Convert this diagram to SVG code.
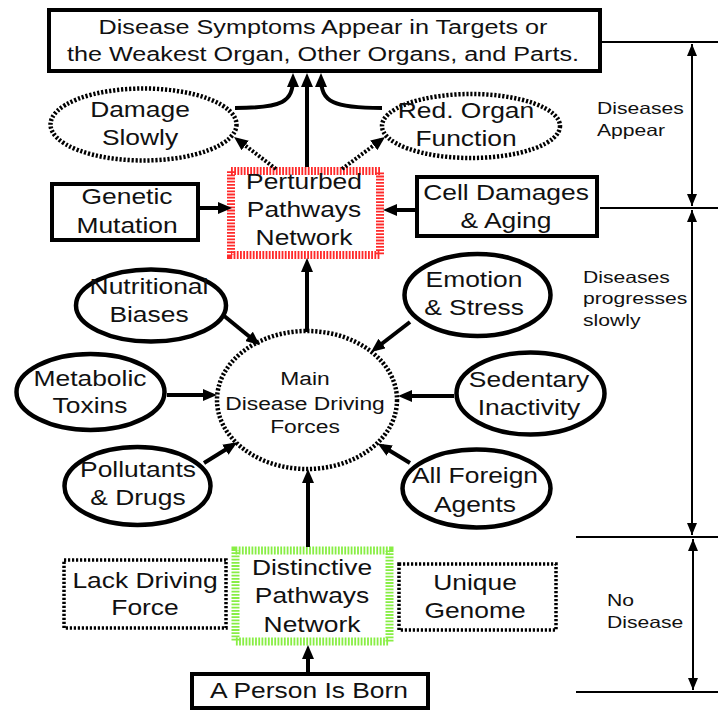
<svg xmlns="http://www.w3.org/2000/svg" width="718" height="711" viewBox="0 0 718 711">
<defs>
<style>
.n{font-family:"Liberation Sans",Arial,sans-serif;font-size:22px;fill:#111;text-anchor:middle}
.t{font-size:21px}
.m{font-size:19px}
.lb{font-family:"Liberation Sans",Arial,sans-serif;font-size:16.5px;fill:#111;text-anchor:start}
.box{fill:#fff;stroke:#000;stroke-width:4}
.ell{fill:#fff;stroke:#000;stroke-width:4.5}
.dot{fill:#fff;stroke:#000;stroke-width:4.5;stroke-dasharray:2.2 1.8}
.dotb{fill:#fff;stroke:#000;stroke-width:3.5;stroke-dasharray:2.2 1.8}
.hr{fill:#fff;stroke:#ff2a2a;stroke-width:8;stroke-dasharray:1.8 1.4}
.hg{fill:#fff;stroke:#88ee44;stroke-width:8;stroke-dasharray:1.8 1.4}
.c{fill:none;stroke:#000;stroke-width:4;marker-end:url(#ah)}
.cd{fill:none;stroke:#000;stroke-width:4;stroke-dasharray:2.2 1.8;marker-end:url(#ah)}
.thin{fill:none;stroke:#000;stroke-width:2}
.dbl{fill:none;stroke:#000;stroke-width:2;marker-start:url(#sh);marker-end:url(#sh)}
</style>
<marker id="ah" viewBox="0 0 14 12" refX="9" refY="6" markerWidth="14" markerHeight="12" orient="auto" markerUnits="userSpaceOnUse"><path d="M0,0 L14,6 L0,12 z" fill="#000"/></marker>
<marker id="sh" viewBox="0 0 12 10" refX="12" refY="5" markerWidth="12" markerHeight="10" orient="auto-start-reverse" markerUnits="userSpaceOnUse"><path d="M0,0 L12,5 L0,10 z" fill="#000"/></marker>
</defs>
<rect width="718" height="711" fill="#fff"/>

<g id="symptoms">
<rect class="box" x="49" y="10" width="551" height="61"/>
<text class="n t" transform="translate(323 0) scale(1.2 1)" y="34">Disease Symptoms Appear in Targets or</text>
<text class="n t" transform="translate(323 0) scale(1.2 1)" y="61">the Weakest Organ, Other Organs, and Parts.</text>
</g>
<g id="damage-slowly">
<ellipse class="dot" cx="143.5" cy="124.5" rx="93" ry="36"/>
<text class="n" transform="translate(140 0) scale(1.2 1)" y="117">Damage</text>
<text class="n" transform="translate(140 0) scale(1.2 1)" y="145">Slowly</text>
</g>
<g id="red-organ">
<ellipse class="dot" cx="471" cy="126" rx="89" ry="32"/>
<text class="n" transform="translate(466 0) scale(1.2 1)" y="118">Red. Organ</text>
<text class="n" transform="translate(466 0) scale(1.2 1)" y="146">Function</text>
</g>
<g id="perturbed">
<rect class="hr" x="231" y="171" width="149" height="84"/>
<text class="n" transform="translate(304 0) scale(1.2 1)" y="189">Perturbed</text>
<text class="n" transform="translate(304 0) scale(1.2 1)" y="217">Pathways</text>
<text class="n" transform="translate(304 0) scale(1.2 1)" y="245">Network</text>
</g>
<g id="genetic">
<rect class="box" x="52" y="184" width="146" height="56"/>
<text class="n" transform="translate(127 0) scale(1.2 1)" y="204">Genetic</text>
<text class="n" transform="translate(127 0) scale(1.2 1)" y="233">Mutation</text>
</g>
<g id="cell-damages">
<rect class="box" x="417" y="177" width="180" height="59"/>
<text class="n" transform="translate(506 0) scale(1.2 1)" y="200">Cell Damages</text>
<text class="n" transform="translate(506 0) scale(1.2 1)" y="228">&amp; Aging</text>
</g>
<g id="nutritional">
<ellipse class="ell" cx="151" cy="305.5" rx="75" ry="36"/>
<text class="n" transform="translate(149 0) scale(1.2 1)" y="294">Nutritional</text>
<text class="n" transform="translate(149 0) scale(1.2 1)" y="322">Biases</text>
</g>
<g id="emotion">
<ellipse class="ell" cx="477.5" cy="295" rx="73" ry="41"/>
<text class="n" transform="translate(474 0) scale(1.2 1)" y="287">Emotion</text>
<text class="n" transform="translate(474 0) scale(1.2 1)" y="315">&amp; Stress</text>
</g>
<g id="metabolic">
<ellipse class="ell" cx="90.5" cy="392" rx="74" ry="38"/>
<text class="n" transform="translate(90 0) scale(1.2 1)" y="386">Metabolic</text>
<text class="n" transform="translate(90 0) scale(1.2 1)" y="413">Toxins</text>
</g>
<g id="sedentary">
<ellipse class="ell" cx="530.5" cy="393.5" rx="74" ry="41"/>
<text class="n" transform="translate(529 0) scale(1.2 1)" y="387">Sedentary</text>
<text class="n" transform="translate(529 0) scale(1.2 1)" y="415">Inactivity</text>
</g>
<g id="pollutants">
<ellipse class="ell" cx="137.5" cy="486" rx="73" ry="39"/>
<text class="n" transform="translate(138 0) scale(1.2 1)" y="477">Pollutants</text>
<text class="n" transform="translate(138 0) scale(1.2 1)" y="505">&amp; Drugs</text>
</g>
<g id="foreign">
<ellipse class="ell" cx="476.5" cy="488.5" rx="74" ry="39"/>
<text class="n" transform="translate(475 0) scale(1.2 1)" y="483">All Foreign</text>
<text class="n" transform="translate(475 0) scale(1.2 1)" y="512">Agents</text>
</g>
<g id="main-forces">
<ellipse class="dot" cx="307" cy="400" rx="90" ry="69"/>
<text class="n m" transform="translate(305 0) scale(1.2 1)" y="385">Main</text>
<text class="n m" transform="translate(305 0) scale(1.2 1)" y="410">Disease Driving</text>
<text class="n m" transform="translate(305 0) scale(1.2 1)" y="433">Forces</text>
</g>
<g id="lack-driving">
<rect class="dotb" x="64" y="560" width="162" height="68"/>
<text class="n" transform="translate(145 0) scale(1.2 1)" y="588">Lack Driving</text>
<text class="n" transform="translate(145 0) scale(1.2 1)" y="615">Force</text>
</g>
<g id="distinctive">
<rect class="hg" x="235.5" y="550.5" width="154" height="91"/>
<text class="n" transform="translate(312 0) scale(1.2 1)" y="575">Distinctive</text>
<text class="n" transform="translate(312 0) scale(1.2 1)" y="603">Pathways</text>
<text class="n" transform="translate(312 0) scale(1.2 1)" y="632">Network</text>
</g>
<g id="unique-genome">
<rect class="dotb" x="399" y="564" width="157" height="66"/>
<text class="n" transform="translate(475 0) scale(1.2 1)" y="590">Unique</text>
<text class="n" transform="translate(475 0) scale(1.2 1)" y="618">Genome</text>
</g>
<g id="born">
<rect class="box" x="192" y="674" width="236" height="34"/>
<text class="n" transform="translate(309 0) scale(1.2 1)" y="698">A Person Is Born</text>
</g>

<g id="stages">
<text class="lb" transform="translate(597 0) scale(1.28 1)" y="114">Diseases</text>
<text class="lb" transform="translate(597 0) scale(1.28 1)" y="136">Appear</text>
<text class="lb" transform="translate(583 0) scale(1.28 1)" y="283">Diseases</text>
<text class="lb" transform="translate(583 0) scale(1.28 1)" y="304">progresses</text>
<text class="lb" transform="translate(583 0) scale(1.28 1)" y="326">slowly</text>
<text class="lb" transform="translate(607 0) scale(1.28 1)" y="606">No</text>
<text class="lb" transform="translate(607 0) scale(1.28 1)" y="628">Disease</text>
</g>

<g id="connectors">
<path class="c" d="M307,167 L307,78"/>
<path class="c" d="M235,108 C283,108 293,102 293,78"/>
<path class="c" d="M382,108 C333,108 321,102 321,78"/>
<path class="cd" d="M276,169 L238,140"/>
<path class="cd" d="M342,169 L381,140"/>
<path class="c" d="M200,208 L227,208"/>
<path class="c" d="M415,210 L388,210"/>
<path class="c" d="M307,332 L307,263"/>
<path class="c" d="M223,315 L256,342"/>
<path class="c" d="M410,322 L375,349"/>
<path class="c" d="M167,395 L212,395"/>
<path class="c" d="M454,396 L403,396"/>
<path class="c" d="M204,463 L233,445"/>
<path class="c" d="M410,463 L382,446"/>
<path class="c" d="M308,547 L308,474"/>
<path class="c" d="M308,672 L308,650"/>
<path class="thin" d="M600,42 L718,42"/>
<path class="thin" d="M600,208 L718,208"/>
<path class="thin" d="M576,537 L718,537"/>
<path class="thin" d="M576,692 L718,692"/>
<path class="dbl" d="M692,44 L692,206"/>
<path class="dbl" d="M692,210 L692,535"/>
<path class="dbl" d="M693,539 L693,690"/>
</g>
</svg>
